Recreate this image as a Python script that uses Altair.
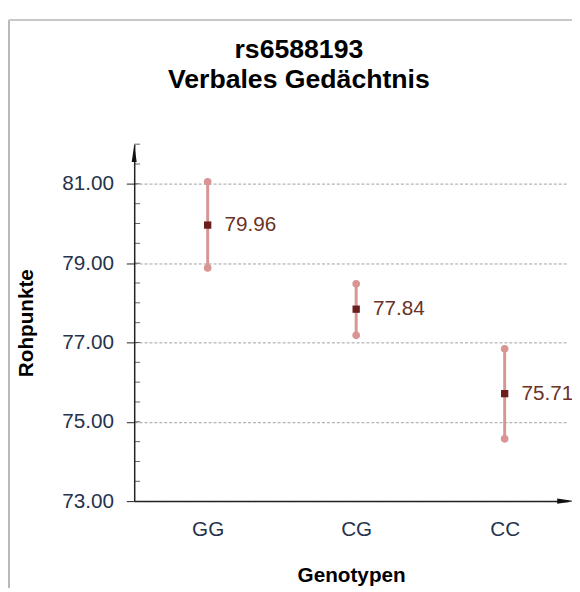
import altair as alt
import pandas as pd

genotypes = ["GG", "CG", "CC"]
means = [79.96, 77.84, 75.71]
lower = [78.88, 77.18, 74.57]
upper = [81.05, 78.48, 76.84]
labels = ["79.96", "77.84", "75.71"]
major_ticks = [73, 75, 77, 79, 81]
minor_ticks = [73.5, 74, 74.5, 75, 75.5, 76, 76.5, 77, 77.5, 78, 78.5, 79,
               79.5, 80, 80.5, 81, 81.5, 82]

FONT = "Liberation Sans"
W, H = 440, 362

df = pd.DataFrame({"Genotyp": genotypes, "Mittel": means, "lo": lower,
                   "hi": upper, "label": labels})

xscale = alt.Scale(type="point", domain=genotypes, padding=0.4608, align=0.5368)
yscale = alt.Scale(domain=[73, 82], nice=False, zero=False)

x_enc = alt.X("Genotyp:N", scale=xscale, sort=genotypes,
              axis=alt.Axis(title="Genotypen", labelFontSize=21, labelFont=FONT,
                            labelColor="#27334d", labelAngle=0, ticks=False,
                            tickSize=0, labelPadding=18, domainColor="#222222",
                            domainWidth=1.5, titleFont=FONT, titleFontSize=21,
                            titleFontWeight="bold", titleColor="#000000",
                            titlePadding=26, grid=False))

y_axis = alt.Axis(title="Rohpunkte", values=major_ticks, format=".2f",
                  labelFontSize=21, labelFont=FONT, labelColor="#27334d",
                  labelPadding=13, tickSize=8, tickColor="#222222",
                  domainColor="#222222", domainWidth=1.5, grid=True,
                  gridColor="#a0a0a0", gridDash=[3, 2], gridWidth=1,
                  titleFont=FONT, titleFontSize=21, titleFontWeight="bold",
                  titleColor="#000000", titlePadding=26)

base = alt.Chart(df)

bars = base.mark_rule(color="#d99494", strokeWidth=3).encode(
    x=x_enc,
    y=alt.Y("lo:Q", scale=yscale, axis=y_axis),
    y2="hi:Q",
)

ends = base.transform_fold(["lo", "hi"], as_=["k", "v"]).mark_circle(
    color="#d99494", size=60, opacity=1).encode(
    x=alt.X("Genotyp:N", scale=xscale),
    y=alt.Y("v:Q", scale=yscale),
)

mean_pts = base.mark_square(color="#6b1e1e", size=55, opacity=1).encode(
    x=alt.X("Genotyp:N", scale=xscale),
    y=alt.Y("Mittel:Q", scale=yscale),
)

texts = base.mark_text(align="left", baseline="middle", dx=17, fontSize=21,
                       font=FONT, color="#6b3326").encode(
    x=alt.X("Genotyp:N", scale=xscale),
    y=alt.Y("Mittel:Q", scale=yscale),
    text="label:N",
)

inner_ticks = alt.Chart(pd.DataFrame({"t": minor_ticks})).mark_tick(
    orient="horizontal", color="#222222", thickness=1, size=6).encode(
    y=alt.Y("t:Q", scale=yscale),
    x=alt.value(3),
)

one = alt.Data(values=[{"a": 1}])
up_arrow = alt.Chart(one).mark_point(
    shape="M0,-1L0.3,1L-0.3,1Z", filled=True, color="#111111", size=289,
    opacity=1).encode(x=alt.value(0), y=alt.value(9.5))
right_arrow = alt.Chart(one).mark_point(
    shape="M1,0L-1,0.3L-1,-0.3Z", filled=True, color="#111111", size=289,
    opacity=1).encode(x=alt.value(W - 2.5), y=alt.value(H))

border_left = alt.Chart(one).mark_rule(color="#b8b8b8", strokeWidth=2).encode(
    x=alt.value(-127), y=alt.value(-126), y2=alt.value(H + 100))
border_top = alt.Chart(one).mark_rule(color="#c8c8c8", strokeWidth=2).encode(
    x=alt.value(-127), x2=alt.value(W + 10), y=alt.value(-126))

chart = alt.layer(
    bars, ends, mean_pts, texts, inner_ticks, up_arrow, right_arrow,
    border_left, border_top,
).properties(
    width=W, height=H,
    padding={"left": 128, "top": 134, "right": 4, "bottom": 84},
    autosize="none",
    title=alt.TitleParams(["rs6588193", "Verbales Gedächtnis"], fontSize=27,
                          font=FONT, fontWeight="bold", color="#000000",
                          lineHeight=30, dx=-53, dy=125, offset=49,
                          anchor="middle"),
).configure_view(stroke=None)

chart.save("out.html", embed_options={"renderer": "svg", "actions": False})
